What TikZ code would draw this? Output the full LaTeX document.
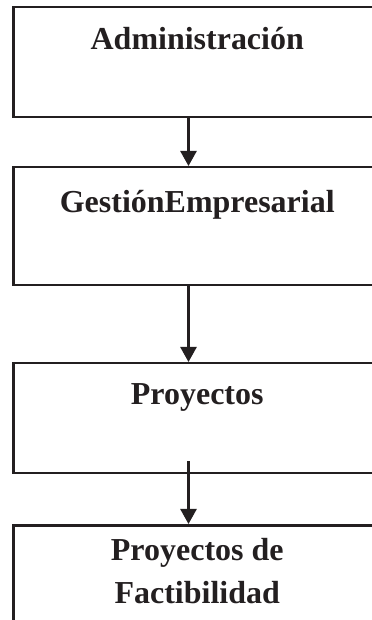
\documentclass[tikz,border=0pt]{standalone}
\usepackage{fontspec}
\setmainfont{Liberation Serif}
\usetikzlibrary{arrows.meta}

\definecolor{ink}{HTML}{231F20}

\begin{document}
\begin{tikzpicture}[>={Triangle[length=0.3cm,width=0.32cm]},
    unit/.style={draw=ink, line width=0.05cm, rectangle, anchor=north west,
      minimum width=7.36cm, inner sep=0pt},
    title/.style={text=ink, font=\fontsize{18.2}{24.5}\selectfont\bfseries, align=center},
    flow/.style={->, draw=ink, line width=0.05cm}]
  \useasboundingbox (0,0) rectangle (7.44,12.4);
  % boxes
  \node[unit, minimum height=2.2cm]  (admin) at (0.24,12.28) {};
  \node[unit, minimum height=2.36cm] (gest)  at (0.24,9.08) {};
  \node[unit, minimum height=2.2cm]  (proy)  at (0.24,5.16) {};
  \node[unit, minimum height=3.2cm]  (fact)  at (0.24,1.92) {};
  % titles
  \node[title] (tadmin) at ([yshift=-0.66cm]admin.north) {Administración};
  \node[title] (tgest)  at ([yshift=-0.78cm]gest.north)  {GestiónEmpresarial};
  \node[title] (tproy)  at ([yshift=-0.70cm]proy.north)  {Proyectos};
  \node[title] (tfact)  at ([yshift=-0.94cm]fact.north)  {Proyectos de\\Factibilidad};
  % arrows
  \coordinate (ax) at (3.77,0);
  \draw[flow] (admin.south -| ax) -- (gest.north -| ax);
  \draw[flow] (gest.south -| ax) -- (proy.north -| ax);
  \draw[flow] ([yshift=0.26cm]proy.south -| ax) -- (fact.north -| ax);
\end{tikzpicture}
\end{document}
